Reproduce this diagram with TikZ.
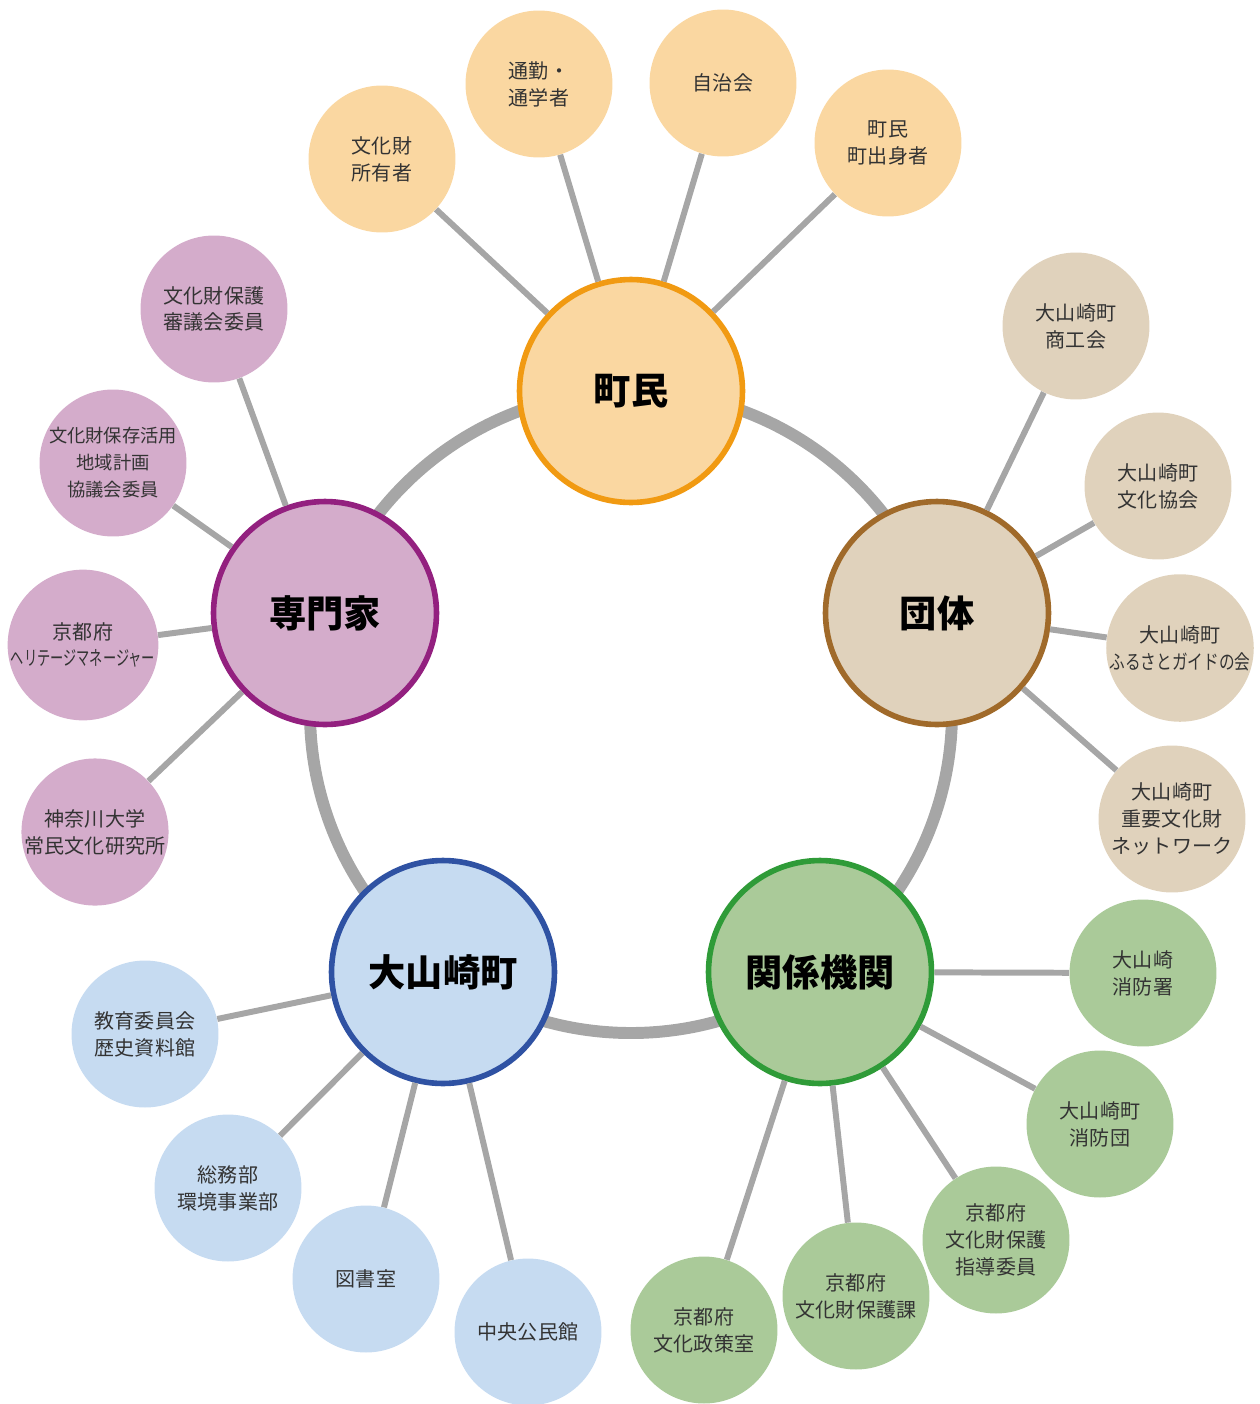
\documentclass[tikz,border=0pt]{standalone}
\usepackage{fontspec}
\setmainfont{Noto Sans CJK JP}
\definecolor{tmFill}{HTML}{FAD7A1}
\definecolor{tmLine}{HTML}{F19A12}
\definecolor{dtFill}{HTML}{E0D2BC}
\definecolor{dtLine}{HTML}{A06A2A}
\definecolor{kkFill}{HTML}{AACA99}
\definecolor{kkLine}{HTML}{2F9B38}
\definecolor{ooFill}{HTML}{C6DBF1}
\definecolor{ooLine}{HTML}{2F52A3}
\definecolor{smFill}{HTML}{D4ACCB}
\definecolor{smLine}{HTML}{93207F}
\definecolor{hcGray}{HTML}{A6A6A6}
\definecolor{hcText}{HTML}{333333}
\usetikzlibrary{calc}

\tikzset{
  hub/.style={circle, line width=3.2pt, minimum size=4.46cm, inner sep=0pt, font=\fontsize{21.2}{24}\selectfont\bfseries},
  leaf/.style={circle, minimum size=2.94cm, inner sep=0pt, align=center, text=hcText, font=\fontsize{11.4}{15.3}\selectfont},
  link/.style={draw=hcGray, line width=3.4pt},
}

\begin{document}
\begin{tikzpicture}[x=0.02cm, y=-0.02cm]
  \useasboundingbox (0,0) rectangle (1259,1404);

  % grey ring behind the five groups
  \coordinate (ringc) at (631,712);
  \draw[hcGray, line width=6.8pt] (ringc) circle[radius=321];

  % five groups
  \node[hub, draw=tmLine, fill=tmFill] (chomin) at (631,391) {町民};
  \node[hub, draw=dtLine, fill=dtFill] (dantai) at (937,613) {団体};
  \node[hub, draw=kkLine, fill=kkFill] (kikan) at (820,972) {関係機関};
  \node[hub, draw=ooLine, fill=ooFill] (town) at (443,972) {大山崎町};
  \node[hub, draw=smLine, fill=smFill] (senmon) at (325,613) {専門家};

  % 町民
  \node[leaf, fill=tmFill] (tm1) at (382,159) {文化財\\所有者};
  \node[leaf, fill=tmFill] (tm2) at (539,84) {通勤・\\通学者};
  \node[leaf, fill=tmFill] (tm3) at (723,83) {自治会};
  \node[leaf, fill=tmFill] (tm4) at (888,143) {町民\\町出身者};
  \foreach \s in {tm1,tm2,tm3,tm4} \draw[link] (chomin) -- (\s);

  % 団体
  \node[leaf, fill=dtFill] (dt1) at (1076,326) {大山崎町\\商工会};
  \node[leaf, fill=dtFill] (dt2) at (1158,486) {大山崎町\\文化協会};
  \node[leaf, fill=dtFill] (dt3) at (1180,648) {大山崎町\\\scalebox{0.78}[1]{ふるさとガイドの会}};
  \node[leaf, fill=dtFill] (dt4) at (1172,819) {大山崎町\\重要文化財\\ネットワーク};
  \foreach \s in {dt1,dt2,dt3,dt4} \draw[link] (dantai) -- (\s);

  % 関係機関
  \node[leaf, fill=kkFill] (kk1) at (1143,973) {大山崎\\消防署};
  \node[leaf, fill=kkFill] (kk2) at (1100,1124) {大山崎町\\消防団};
  \node[leaf, fill=kkFill] (kk3) at (996,1240) {京都府\\文化財保護\\指導委員};
  \node[leaf, fill=kkFill] (kk4) at (856,1296) {京都府\\文化財保護課};
  \node[leaf, fill=kkFill] (kk5) at (704,1330) {京都府\\文化政策室};
  \foreach \s in {kk1,kk2,kk3,kk4,kk5} \draw[link] (kikan) -- (\s);

  % 大山崎町
  \node[leaf, fill=ooFill] (oo1) at (145,1034) {教育委員会\\歴史資料館};
  \node[leaf, fill=ooFill] (oo2) at (228,1188) {総務部\\環境事業部};
  \node[leaf, fill=ooFill] (oo3) at (366,1279) {図書室};
  \node[leaf, fill=ooFill] (oo4) at (528,1332) {中央公民館};
  \foreach \s in {oo1,oo2,oo3,oo4} \draw[link] (town) -- (\s);

  % 専門家
  \node[leaf, fill=smFill] (sm1) at (214,309) {文化財保護\\審議会委員};
  \node[leaf, fill=smFill, font=\fontsize{10.4}{15.3}\selectfont] (sm2) at (113,463) {文化財保存活用\\地域計画\\協議会委員};
  \node[leaf, fill=smFill] (sm3) at (83,645) {京都府\\\scalebox{0.66}[1]{ヘリテージマネージャー}};
  \node[leaf, fill=smFill] (sm4) at (95,832) {神奈川大学\\常民文化研究所};
  \foreach \s in {sm1,sm2,sm3,sm4} \draw[link] (senmon) -- (\s);
\end{tikzpicture}
\end{document}
